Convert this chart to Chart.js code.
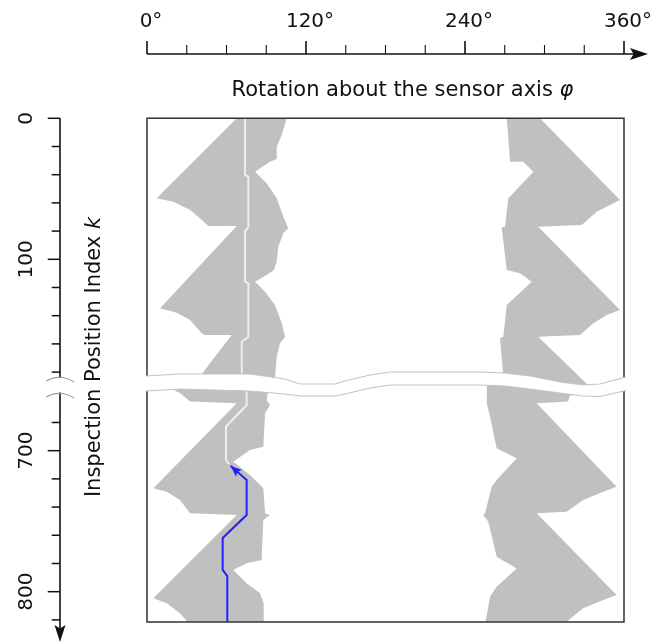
<!DOCTYPE html>
<html>
<head>
<meta charset="utf-8">
<script src="https://cdn.jsdelivr.net/npm/chart.js@4.4.1/dist/chart.umd.min.js"></script>
<style>
    body { margin: 0; background: #fff; }
    #marco { position: relative; width: 651px; height: 644px; }
    #marco canvas { position: absolute; left: 0; top: 0; }
</style>
</head>
<body>
<div id="marco">
    <canvas id="arriba" width="651" height="644"></canvas>
    <canvas id="abajo" width="651" height="644"></canvas>
</div>
<script>
// ===== DATOS =====
const fases = [0, 30, 60, 90, 120, 150, 180, 210, 240, 270, 300, 330, 360];
const fasesEtiqueta = [0, 120, 240, 360];
const kMarcasArriba = [0, 20, 40, 60, 80, 100, 120, 140, 160, 180];
const kMarcasAbajo = [680, 700, 720, 740, 760, 780, 800, 820];
const kEtiquetas = [0, 100, 700, 800];

// zonas grises [phi, k]: borde izquierdo hacia abajo, borde derecho hacia arriba
const grisIzqArriba = [
    [73.0, -5], [7.3, 56.7], [19.9, 59.1], [32.5, 65.0], [40.0, 70.9], [46.3, 76.4], [67.7, 76.4],
    [9.8, 134.8], [22.4, 137.9], [32.5, 143.0], [41.3, 152.5], [43.8, 153.7], [63.9, 153.7],
    [41.3, 181.3], [31.6, 193.3],
    [96.6, 193.3], [96.6, 183.3], [97.9, 169.1], [100.4, 159.6], [104.2, 154.9], [101.7, 145.4],
    [96.6, 132.4], [89.1, 123.0], [81.5, 115.9], [90.3, 111.1], [95.8, 107.6], [97.9, 101.7],
    [99.1, 91.1], [102.9, 81.6], [106.6, 78.0], [102.9, 69.8], [97.9, 56.7], [90.3, 46.1],
    [81.5, 37.9], [92.8, 30.8], [97.4, 29.1], [97.9, 20.1], [101.7, 11.8], [105.4, 0], [106.4, -5]
];
const grisDerArriba = [
    [271.0, -5], [271.5, 0], [274.0, 30.8], [284.0, 30.8], [291.6, 37.9], [272.7, 56.7],
    [270.2, 76.9], [267.7, 77.3], [271.5, 107.6], [281.5, 109.9], [290.3, 115.9], [271.5, 132.4],
    [268.9, 154.9], [266.4, 155.9], [268.9, 183.3], [269.4, 193.3],
    [337.3, 193.3], [295.3, 154.9], [326.8, 153.7], [336.9, 145.4], [347.0, 139.5], [357.0, 136.0],
    [295.3, 76.9], [328.1, 75.7], [339.4, 66.2], [349.4, 61.5], [357.0, 57.9],
    [296.6, 0], [291.3, -5]
];
const grisIzqAbajo = [
    [11.3, 646.3], [4.8, 652.5], [14.9, 654.8], [24.9, 659.1], [32.5, 665.2], [67.7, 666.4],
    [4.8, 726.7], [14.9, 729.1], [24.9, 735.0], [32.5, 744.4], [67.7, 745.6],
    [4.8, 804.7], [14.9, 808.2], [24.9, 815.3], [32.5, 823.6],
    [88.3, 823.6], [88.3, 821.3], [87.8, 808.2], [85.3, 801.1], [75.2, 794.0], [65.1, 784.6],
    [75.2, 779.9], [86.5, 777.5], [87.8, 749.1], [92.8, 745.6], [89.1, 744.4], [87.8, 726.7],
    [77.7, 717.2], [65.1, 707.8], [77.7, 699.5], [87.8, 697.2], [89.1, 673.5], [92.8, 667.6],
    [90.3, 664.0], [91.5, 657.0], [91.3, 646.3]
];
const grisDerAbajo = [
    [256.6, 646.3], [256.4, 660.5], [256.4, 666.4], [258.9, 675.9], [263.9, 698.3], [279.0, 705.4],
    [263.9, 720.8], [260.1, 725.5], [255.1, 744.4], [253.8, 745.6], [257.6, 750.4], [263.9, 775.2],
    [279.0, 783.5], [263.9, 796.5], [258.9, 803.6], [255.1, 823.6],
    [316.6, 823.6], [316.6, 821.3], [329.2, 811.8], [344.3, 805.9], [354.4, 802.3],
    [294.1, 744.4], [316.6, 743.3], [329.2, 735.0], [344.3, 729.1], [354.4, 725.5],
    [294.1, 666.4], [317.9, 665.2], [318.7, 661.5], [334.4, 653.4], [354.4, 648.5], [349.4, 644.9]
];
const lineaBlancaArriba = [
    [74.0, -3], [74.0, 40.2], [76.5, 41.4], [76.5, 76.9], [74.0, 80.4], [74.0, 115.9],
    [76.5, 117.0], [76.5, 154.9], [71.5, 158.4], [71.5, 195]
];
const lineaBlancaAbajo = [
    [75.2, 646], [75.2, 667.6], [59.6, 683.0], [59.6, 706.6], [61.9, 709.4]
];
const recorridoAzul = [
    [60.6, 824], [60.6, 788.9], [57.1, 784.6], [57.1, 761.9], [75.2, 745.6], [75.2, 720.8], [63.2, 710.9]
];

// borde del corte ondulado [phi, desplazamiento en px respecto al corte]
const corteSup = [
    [-0.8, -8.4], [24.9, -10.4], [77.7, -10.4], [104.2, -5.4], [115.5, -0.4], [141.9, -0.4],
    [149.4, -3.4], [168.3, -9.4], [183.4, -12.4], [251.3, -12.4], [270.2, -11.4], [289.1, -8.4],
    [311.7, -2.4], [329.1, 0.6], [341.9, -0.4], [361.5, -7.4]
];
const corteInf = [
    [-0.8, 6.6], [24.9, 4.6], [77.7, 6.6], [104.2, 9.6], [115.5, 11.6], [141.9, 11.6],
    [149.4, 9.6], [168.3, 3.6], [183.4, 0.6], [251.3, 0.6], [270.2, 1.6], [289.1, 4.6],
    [311.7, 8.6], [329.1, 11.6], [341.9, 12.1], [361.5, 6.1]
];

const FUENTE = '"DejaVu Sans", Verdana, sans-serif';
const GRIS = '#c0c0c0';
const EJE_X = 47.7 + 12.3; // linea del eje vertical
const Y_EJE_SUP = 54;

function puntos(a) {
    return a.map(p => ({ x: p[0], y: p[1] }));
}

function zona(a) {
    return {
        data: puntos(a), fill: 'shape', backgroundColor: GRIS,
        borderColor: 'rgba(0,0,0,0)', borderWidth: 0, pointRadius: 0, order: 3
    };
}

function linea(a, color, orden) {
    return {
        data: puntos(a), fill: false, borderColor: color, borderWidth: 2,
        pointRadius: 0, order: orden
    };
}

function flecha(ctx, x, y, ang, largo, ancho) {
    ctx.save();
    ctx.translate(x, y);
    ctx.rotate(ang);
    ctx.beginPath();
    ctx.moveTo(0, 0);
    ctx.lineTo(-largo, -ancho);
    ctx.lineTo(-largo * 0.8, 0);
    ctx.lineTo(-largo, ancho);
    ctx.closePath();
    ctx.fill();
    ctx.restore();
}

function marcasIzq(ctx, y, marcas) {
    ctx.strokeStyle = '#111';
    ctx.lineWidth = 1.5;
    marcas.forEach(k => {
        let py = y.getPixelForValue(k);
        let largo = kEtiquetas.includes(k) ? 12.3 : 8.3;
        ctx.beginPath();
        ctx.moveTo(EJE_X - largo, py);
        ctx.lineTo(EJE_X, py);
        ctx.stroke();
    });
    ctx.fillStyle = '#111';
    ctx.font = '20px ' + FUENTE;
    ctx.textAlign = 'center';
    ctx.textBaseline = 'alphabetic';
    kEtiquetas.forEach(k => {
        if (k < y.min || k > y.max) return;
        ctx.save();
        ctx.translate(31.5, y.getPixelForValue(k));
        ctx.rotate(-Math.PI / 2);
        ctx.fillText(String(k), 0, 0);
        ctx.restore();
    });
}

function tilde(ctx, yc) {
    ctx.strokeStyle = '#9a9a9a';
    ctx.lineWidth = 1.2;
    ctx.beginPath();
    ctx.moveTo(46, yc + 3);
    ctx.quadraticCurveTo(60, yc - 5, 74, yc + 4);
    ctx.stroke();
}

// ===== PLUGINS =====
const dibujoArriba = {
    id: 'dibujoArriba',
    afterDatasetsDraw(chart) {
        const ctx = chart.ctx, x = chart.scales.x, y = chart.scales.y, a = chart.chartArea;
        ctx.save();
        // marco
        ctx.strokeStyle = '#333';
        ctx.lineWidth = 1.5;
        ctx.beginPath();
        ctx.moveTo(a.left, a.bottom);
        ctx.lineTo(a.left, a.top);
        ctx.lineTo(a.right, a.top);
        ctx.lineTo(a.right, a.bottom);
        ctx.stroke();

        // eje superior
        ctx.strokeStyle = '#111';
        ctx.fillStyle = '#111';
        ctx.lineWidth = 1.6;
        ctx.beginPath();
        ctx.moveTo(x.getPixelForValue(0), Y_EJE_SUP);
        ctx.lineTo(640, Y_EJE_SUP);
        ctx.stroke();
        fases.forEach(f => {
            let px = x.getPixelForValue(f);
            let largo = fasesEtiqueta.includes(f) ? 13 : 9;
            ctx.lineWidth = fasesEtiqueta.includes(f) ? 1.6 : 1.1;
            ctx.beginPath();
            ctx.moveTo(px, Y_EJE_SUP);
            ctx.lineTo(px, Y_EJE_SUP - largo);
            ctx.stroke();
        });
        flecha(ctx, 648, Y_EJE_SUP, 0, 18, 6);

        ctx.font = '20px ' + FUENTE;
        ctx.textAlign = 'center';
        ctx.textBaseline = 'alphabetic';
        fasesEtiqueta.forEach(f => ctx.fillText(f + '°', x.getPixelForValue(f) + 4, 27));

        // titulo superior
        let t1 = 'Rotation about the sensor axis ';
        ctx.font = '21px ' + FUENTE;
        let w1 = ctx.measureText(t1).width;
        ctx.font = 'italic 21px ' + FUENTE;
        let w2 = ctx.measureText('φ').width;
        let x0 = 402.5 - (w1 + w2) / 2;
        ctx.textAlign = 'left';
        ctx.font = '21px ' + FUENTE;
        ctx.fillText(t1, x0, 96);
        ctx.font = 'italic 21px ' + FUENTE;
        ctx.fillText('φ', x0 + w1, 96);

        // eje izquierdo (parte superior)
        ctx.lineWidth = 1.6;
        ctx.beginPath();
        ctx.moveTo(EJE_X, y.getPixelForValue(0));
        ctx.lineTo(EJE_X, a.bottom - 6.5);
        ctx.stroke();
        marcasIzq(ctx, y, kMarcasArriba);

        // titulo izquierdo
        let t2 = 'Inspection Position Index ';
        ctx.font = '21px ' + FUENTE;
        let w3 = ctx.measureText(t2).width;
        ctx.font = 'italic 21px ' + FUENTE;
        let w4 = ctx.measureText('k').width;
        ctx.save();
        ctx.translate(100, 357);
        ctx.rotate(-Math.PI / 2);
        ctx.textAlign = 'left';
        ctx.font = '21px ' + FUENTE;
        ctx.fillText(t2, -(w3 + w4) / 2, 0);
        ctx.font = 'italic 21px ' + FUENTE;
        ctx.fillText('k', -(w3 + w4) / 2 + w3, 0);
        ctx.restore();
        ctx.restore();
    }
};

const dibujoAbajo = {
    id: 'dibujoAbajo',
    afterDatasetsDraw(chart) {
        const ctx = chart.ctx, x = chart.scales.x, y = chart.scales.y, a = chart.chartArea;
        ctx.save();
        // marco
        ctx.strokeStyle = '#333';
        ctx.lineWidth = 1.5;
        ctx.beginPath();
        ctx.moveTo(a.left, a.top);
        ctx.lineTo(a.left, a.bottom);
        ctx.lineTo(a.right, a.bottom);
        ctx.lineTo(a.right, a.top);
        ctx.stroke();

        // punta de la flecha azul
        const meta = chart.getDatasetMeta(1);
        const n = meta.data.length;
        const p1 = meta.data[n - 2], p2 = meta.data[n - 1];
        ctx.fillStyle = '#2020ff';
        flecha(ctx, p2.x, p2.y, Math.atan2(p2.y - p1.y, p2.x - p1.x), 11, 4.5);

        // corte ondulado
        const sup = corteSup.map(p => [x.getPixelForValue(p[0]), a.top + p[1]]);
        const inf = corteInf.map(p => [x.getPixelForValue(p[0]), a.top + p[1]]);
        ctx.fillStyle = '#fff';
        ctx.beginPath();
        sup.forEach((p, i) => i ? ctx.lineTo(p[0], p[1]) : ctx.moveTo(p[0], p[1]));
        inf.slice().reverse().forEach(p => ctx.lineTo(p[0], p[1]));
        ctx.closePath();
        ctx.fill();
        ctx.strokeStyle = '#c4c4c4';
        ctx.lineWidth = 1.2;
        [sup, inf].forEach(borde => {
            ctx.beginPath();
            borde.forEach((p, i) => i ? ctx.lineTo(p[0], p[1]) : ctx.moveTo(p[0], p[1]));
            ctx.stroke();
        });

        // eje izquierdo (parte inferior)
        ctx.strokeStyle = '#111';
        ctx.fillStyle = '#111';
        ctx.lineWidth = 1.6;
        ctx.beginPath();
        ctx.moveTo(EJE_X, a.top + 8);
        ctx.lineTo(EJE_X, 634);
        ctx.stroke();
        flecha(ctx, EJE_X, 642, Math.PI / 2, 17, 5.5);
        marcasIzq(ctx, y, kMarcasAbajo);

        tilde(ctx, a.top - 6.4);
        tilde(ctx, a.top + 9.6);
        ctx.restore();
    }
};

// ===== GRAFICAS =====
function crearGrafica(id, datos, kMin, kMax, relleno, plugin) {
    return new Chart(document.getElementById(id).getContext('2d'), {
        type: 'line',
        data: { datasets: datos },
        options: {
            responsive: false,
            animation: false,
            devicePixelRatio: 1,
            layout: { padding: relleno },
            plugins: { legend: { display: false }, tooltip: { enabled: false } },
            scales: {
                x: { type: 'linear', min: 0, max: 360, display: false },
                y: { type: 'linear', min: kMin, max: kMax, reverse: true, display: false }
            }
        },
        plugins: [plugin]
    });
}

crearGrafica('arriba', [
    linea(lineaBlancaArriba, '#eeeeee', 1),
    zona(grisIzqArriba),
    zona(grisDerArriba)
], 0, 188.8, { left: 147, right: 27, top: 118.3, bottom: 259.5 }, dibujoArriba);

crearGrafica('abajo', [
    linea(lineaBlancaAbajo, '#eeeeee', 1),
    linea(recorridoAzul, '#2020ff', 0),
    zona(grisIzqAbajo),
    zona(grisDerAbajo)
], 653, 821.5, { left: 147, right: 27, top: 384.4, bottom: 22 }, dibujoAbajo);
</script>
</body>
</html>
